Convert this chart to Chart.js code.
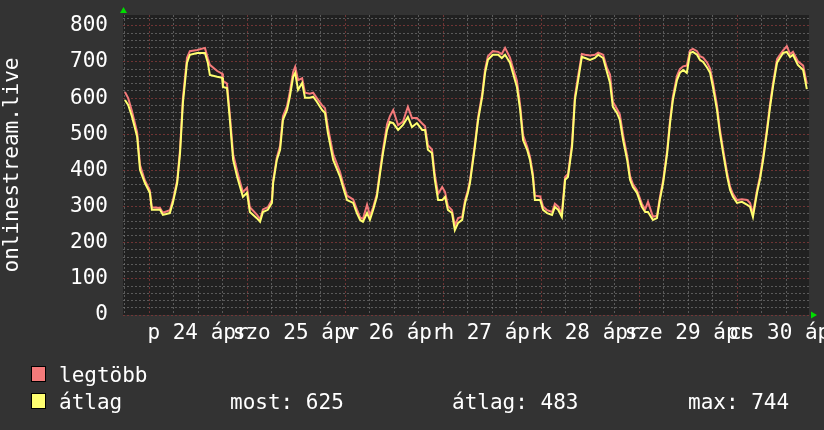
<!DOCTYPE html>
<html>
<head>
<meta charset="utf-8">
<script src="https://cdn.jsdelivr.net/npm/chart.js@4/dist/chart.umd.min.js"></script>
<style>
  html, body { margin: 0; padding: 0; background: #333333; }
  #wrap { width: 824px; height: 430px; }
</style>
</head>
<body>
<div id="wrap"><canvas id="c" width="824" height="430"></canvas></div>
<script>
// ---- data (hours relative to 2020-04-24 00:00) ----
const hours = [-5.9,-5.1,-4.2,-2.9,-2.2,-1.0,0.2,0.7,2.7,3.4,5.1,5.9,6.9,7.6,8.3,9.3,10.0,11.8,13.7,14.4,14.9,16.7,17.9,18.1,19.1,19.8,20.6,21.6,22.3,23.0,
  24.0,24.7,26.4,27.2,27.9,29.1,30.1,30.4,31.3,32.1,32.8,33.8,34.5,35.3,35.8,36.5,37.5,38.2,39.4,40.2,41.1,42.4,43.1,43.8,45.1,46.8,47.5,
  48.5,50.0,50.9,51.7,52.4,53.4,54.1,54.9,55.8,56.6,57.3,58.3,59.0,59.8,61.0,62.2,63.4,64.4,65.6,66.9,67.6,68.3,69.3,70.0,70.8,71.8,
  72.5,73.2,74.2,74.9,75.7,76.7,77.4,78.1,78.6,79.8,80.6,81.6,82.3,83.0,84.2,85.5,86.4,87.2,88.4,89.1,90.1,90.9,91.6,92.6,93.3,94.0,94.5,95.8,
  96.5,97.5,98.7,99.4,100.2,101.1,101.9,102.6,103.6,104.3,105.1,106.0,106.8,108.0,109.2,110.0,111.2,112.2,112.9,113.6,114.6,115.3,116.1,117.1,117.8,118.5,119.5,
  120.7,121.5,122.2,123.4,124.4,125.1,125.9,126.9,127.6,128.3,129.3,130.0,130.8,131.7,132.5,133.2,134.2,134.9,135.7,136.7,137.4,138.1,139.1,139.8,140.6,141.6,142.3,143.0,
  144.0,145.2,146.5,147.2,147.9,148.9,149.6,150.4,151.3,152.1,152.8,153.8,154.5,155.3,156.2,157.0,157.7,158.9,160.2,161.1];
const avgValues = [595,581,550,493,401,365,338,291,291,277,282,313,365,448,587,698,720,725,725,698,664,659,656,631,628,540,429,382,354,327,
  338,285,268,258,285,291,310,365,429,457,540,567,604,659,670,623,642,601,601,604,590,567,559,504,429,382,354,
  318,310,282,263,258,282,263,291,327,393,448,512,534,531,512,526,548,520,531,512,512,457,448,374,318,318,
  327,291,282,235,255,263,310,338,365,465,540,604,670,706,720,720,711,720,698,670,631,567,484,457,429,382,318,318,
  291,282,277,299,291,271,374,382,465,595,650,714,711,706,711,720,711,670,642,576,559,540,484,429,374,354,338,
  299,285,285,263,268,318,365,448,531,595,650,670,678,670,725,728,720,706,700,684,670,631,567,504,448,382,346,327,
  310,313,305,299,271,338,374,429,504,576,631,698,711,725,728,714,720,692,678,625];
const maxValues = [617,600,565,505,415,372,345,298,296,283,290,320,372,458,600,712,730,733,739,710,692,675,668,648,640,555,445,398,368,340,
  352,298,278,265,292,298,318,372,436,468,550,578,618,672,687,650,655,615,612,615,600,580,572,520,445,395,365,
  330,320,292,270,266,305,275,298,335,402,458,528,550,567,525,535,576,545,545,530,522,470,458,388,335,354,
  340,302,290,248,268,272,318,345,372,472,548,612,680,716,730,728,722,739,712,685,648,580,498,466,438,392,330,328,
  300,290,285,308,300,280,382,390,475,605,662,722,720,718,720,726,720,682,665,590,570,555,498,440,385,362,345,
  308,292,313,272,275,325,372,456,540,605,662,680,688,690,732,736,730,716,712,698,682,645,580,515,458,392,355,335,
  318,320,318,310,280,345,382,438,512,585,640,708,720,732,744,722,728,702,690,640];
const seriesNames = ['legtöbb', 'átlag'];
const dayLabels = ['p 24 ápr', 'szo 25 ápr', 'v 26 ápr', 'h 27 ápr', 'k 28 ápr', 'sze 29 ápr', 'cs 30 ápr'];
const xTickHours = [-6,0,6,12,18,24,30,36,42,48,54,60,66,72,78,84,90,96,102,108,114,120,126,132,138,144,150,156];
const yTickValues = [];
for (let v = 0; v <= 820; v += 20) yTickValues.push(v);
const yLabelValues = [0,100,200,300,400,500,600,700,800];
const statLabels = ['most: 625', 'átlag: 483', 'max: 744'];
const xMin = -6.37, xMax = 161.63, yMin = 0, yMax = 830;

const FONT = 'DejaVu Sans Mono';
const FS = 21;
const RED = '#f47a7a', YEL = '#ffff70';
const GRID_MINOR = 'rgba(115,115,115,0.7)';
const GRID_MAJOR = 'rgba(125,55,55,0.85)';

const toPts = (ys) => hours.map((h, i) => ({x: h, y: ys[i]}));

const deco = {
  id: 'deco',
  beforeDraw(chart) {
    const {ctx, chartArea: a} = chart;
    ctx.save();
    ctx.fillStyle = '#333333';
    ctx.fillRect(0, 0, chart.width, chart.height);
    ctx.fillStyle = '#212121';
    ctx.fillRect(a.left, a.top, a.right - a.left, a.bottom - a.top);
    ctx.restore();
  },
  afterDraw(chart) {
    const {ctx, chartArea: a} = chart;
    ctx.save();
    // arrows
    ctx.fillStyle = '#00dd00';
    ctx.beginPath();
    ctx.moveTo(a.left - 3, a.top - 2); ctx.lineTo(a.left + 4, a.top - 2); ctx.lineTo(a.left + 0.5, a.top - 8); ctx.closePath(); ctx.fill();
    ctx.beginPath();
    ctx.moveTo(a.right + 2, a.bottom - 3.5); ctx.lineTo(a.right + 2, a.bottom + 3.5); ctx.lineTo(a.right + 8, a.bottom); ctx.closePath(); ctx.fill();
    // legend
    const colors = [RED, YEL];
    const rowsY = [382, 409];
    ctx.font = FS + 'px "' + FONT + '"';
    ctx.textBaseline = 'alphabetic';
    ctx.textAlign = 'left';
    for (let i = 0; i < 2; i++) {
      ctx.fillStyle = colors[i];
      ctx.fillRect(32, rowsY[i] - 15, 13, 14);
      ctx.strokeStyle = '#000';
      ctx.lineWidth = 1;
      ctx.strokeRect(31.5, rowsY[i] - 15.5, 14, 15);
      ctx.fillStyle = '#ffffff';
      ctx.fillText(seriesNames[i], 59, rowsY[i]);
    }
    const statX = [230, 452, 688];
    statLabels.forEach((s, i) => ctx.fillText(s, statX[i], rowsY[1]));
    ctx.restore();
  }
};

new Chart(document.getElementById('c'), {
  type: 'line',
  data: {
    datasets: [
      {label: seriesNames[0], data: toPts(maxValues), borderColor: RED, borderWidth: 2, pointRadius: 0, order: 2},
      {label: seriesNames[1], data: toPts(avgValues), borderColor: YEL, borderWidth: 2, pointRadius: 0, order: 1}
    ]
  },
  options: {
    responsive: false,
    animation: false,
    events: [],
    layout: {padding: {left: 0, top: 15, right: 15, bottom: 0}},
    plugins: {legend: {display: false}, tooltip: {enabled: false}},
    scales: {
      x: {
        type: 'linear', min: xMin, max: xMax,
        afterBuildTicks: (s) => { s.ticks = xTickHours.map(v => ({value: v})); },
        afterFit: (s) => { s.height = 115; s.paddingLeft = 0; s.paddingRight = 0; },
        grid: {
          drawTicks: false,
          color: (c) => (c.tick && c.tick.value % 24 === 0) ? GRID_MAJOR : GRID_MINOR,
          lineWidth: 1
        },
        border: {display: false, dash: [2, 2]},
        ticks: {
          autoSkip: false, maxRotation: 0, minRotation: 0, padding: 6,
          color: '#ffffff', font: {family: FONT, size: FS},
          callback: (v) => { const h = Number(v); return (((h - 12) % 24) === 0 && h >= 12) ? dayLabels[(h - 12) / 24] : ''; }
        }
      },
      y: {
        type: 'linear', min: yMin, max: yMax,
        afterBuildTicks: (s) => { s.ticks = yTickValues.map(v => ({value: v})); },
        afterFit: (s) => { s.width = 123; s.paddingTop = 0; s.paddingBottom = 0; },
        grid: {
          drawTicks: false,
          color: (c) => (c.tick && c.tick.value % 100 === 0) ? GRID_MAJOR : GRID_MINOR,
          lineWidth: 1
        },
        border: {display: false, dash: [2, 2]},
        ticks: {
          autoSkip: false, padding: 15, color: '#ffffff', font: {family: FONT, size: FS},
          callback: (v) => yLabelValues.includes(Number(v)) ? String(v) : ''
        },
        title: {display: true, text: 'onlinestream.live', color: '#ffffff', font: {family: FONT, size: FS}, padding: {top: 0, bottom: 0}}
      }
    }
  },
  plugins: [deco]
});
</script>
</body>
</html>
